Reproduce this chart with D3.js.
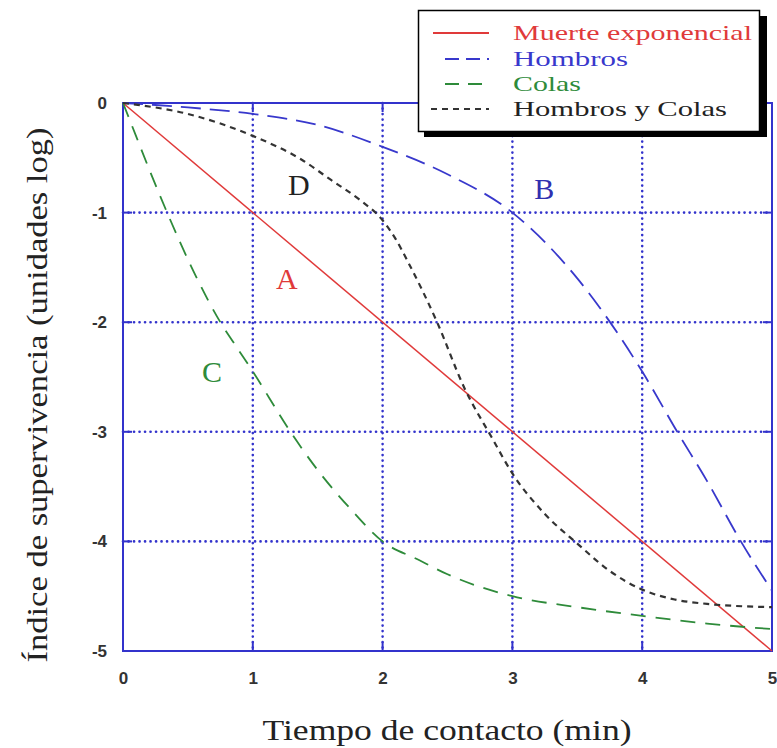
<!DOCTYPE html>
<html><head><meta charset="utf-8">
<script src="https://cdn.jsdelivr.net/npm/d3@7"></script>
<style>body{margin:0;background:#fff}</style>
</head><body>
<svg id="c" width="777" height="748"></svg>
<script>
const xTicks = [0,1,2,3,4,5];
const yTicks = [0,-1,-2,-3,-4,-5];
const seriesNames = ["Muerte exponencial","Hombros","Colas","Hombros y Colas"];
const seriesColors = ["#e03a3a","#3838cc","#2e8b3a","#333333"];
const expX = [0,5];
const expY = [0,-5];
const shoulderX = [0,0.5,1,1.5,2,2.5,3,3.5,4,4.27,4.5,4.76,5];
const shoulderY = [0,-0.04,-0.1,-0.2,-0.4,-0.65,-1.0,-1.6,-2.45,-3.0,-3.45,-4.0,-4.45];
const tailX = [0,0.1,0.2,0.34,0.57,0.75,0.86,1,1.29,1.5,1.75,2,2.28,2.5,3,3.5,4,4.5,5];
const tailY = [0,-0.3,-0.6,-1.0,-1.6,-2.0,-2.2,-2.45,-3.0,-3.35,-3.7,-4.0,-4.17,-4.3,-4.5,-4.6,-4.68,-4.75,-4.8];
const bothX = [0,0.5,1,1.38,1.6,1.82,2,2.1,2.2,2.42,2.63,2.84,3,3.25,3.5,3.75,4,4.25,4.5,5];
const bothY = [0,-0.1,-0.3,-0.52,-0.7,-0.88,-1.07,-1.24,-1.46,-2.0,-2.6,-3.05,-3.38,-3.75,-4.02,-4.27,-4.44,-4.53,-4.57,-4.6];
const letterText = ["D","B","A","C"];
const letterX = [1.354,3.246,1.262,0.685];
const letterY = [-0.84,-0.876,-1.70,-2.55];
const letterColors = ["#222222","#3030b0","#e03a3a","#2e8b3a"];

const svg = d3.select("#c");
const L=123,R=772,T=103,B=651;
const x = d3.scaleLinear().domain([0,5]).range([L,R]);
const y = d3.scaleLinear().domain([-5,0]).range([B,T]);
const blue="#3333cc";
const serif="Liberation Serif, Times New Roman, serif";

// gridlines
const g = svg.append("g");
g.selectAll(".gx").data(xTicks.slice(1,-1)).join("line")
 .attr("x1",d=>x(d)).attr("x2",d=>x(d)).attr("y1",T).attr("y2",B)
 .attr("stroke",blue).attr("stroke-width",2.6).attr("stroke-dasharray","0.1,5.4").attr("stroke-linecap","round");
g.selectAll(".gy").data(yTicks.slice(1,-1)).join("line")
 .attr("y1",d=>y(d)).attr("y2",d=>y(d)).attr("x1",L).attr("x2",R)
 .attr("stroke",blue).attr("stroke-width",2.6).attr("stroke-dasharray","0.1,5.4").attr("stroke-linecap","round");
// inner ticks
const tl=9;
xTicks.forEach(d=>{
  g.append("line").attr("x1",x(d)).attr("x2",x(d)).attr("y1",B).attr("y2",B-tl).attr("stroke",blue).attr("stroke-width",2);
  g.append("line").attr("x1",x(d)).attr("x2",x(d)).attr("y1",T).attr("y2",T+tl).attr("stroke",blue).attr("stroke-width",2);
});
yTicks.forEach(d=>{
  g.append("line").attr("y1",y(d)).attr("y2",y(d)).attr("x1",L).attr("x2",L+tl).attr("stroke",blue).attr("stroke-width",2);
  g.append("line").attr("y1",y(d)).attr("y2",y(d)).attr("x1",R).attr("x2",R-tl).attr("stroke",blue).attr("stroke-width",2);
});
// frame
svg.append("rect").attr("x",L).attr("y",T).attr("width",R-L).attr("height",B-T)
 .attr("fill","none").attr("stroke",blue).attr("stroke-width",2);

// axes labels via d3 axes (text only)
const xAxis = svg.append("g").attr("transform",`translate(0,${B})`)
 .call(d3.axisBottom(x).tickValues(xTicks).tickFormat(d3.format("d")).tickSize(0).tickPadding(21));
const yAxis = svg.append("g").attr("transform",`translate(${L},0)`)
 .call(d3.axisLeft(y).tickValues(yTicks).tickFormat(d=>String(d).replace("−","-")).tickSize(0).tickPadding(16));
[xAxis,yAxis].forEach(a=>{
  a.select(".domain").remove();
  a.selectAll("text").attr("font-family","Liberation Sans, Arial, sans-serif").attr("font-size",17)
   .attr("font-weight","bold").attr("fill","#333");
});

// curves
const line = d3.line().x(d=>x(d[0])).y(d=>y(d[1])).curve(d3.curveMonotoneX);
const series = [
  {xs:expX, ys:expY, dash:null, w:1.5},
  {xs:shoulderX, ys:shoulderY, dash:"20,9", w:1.8},
  {xs:tailX, ys:tailY, dash:"15,10", w:1.8},
  {xs:bothX, ys:bothY, dash:"6,5", w:2.2}
];
series.forEach((s,i)=>{
  svg.append("path").datum(s.xs.map((v,j)=>[v,s.ys[j]]))
   .attr("d",line).attr("fill","none").attr("stroke",seriesColors[i])
   .attr("stroke-width",s.w).attr("stroke-dasharray",s.dash);
});

// letters
letterText.forEach((t,i)=>{
  svg.append("text").attr("x",x(letterX[i])).attr("y",y(letterY[i])).attr("text-anchor","middle")
   .attr("font-family",serif).attr("font-size",30).attr("fill",letterColors[i]).text(t);
});

// legend
const lg = svg.append("g");
lg.append("rect").attr("x",424).attr("y",16).attr("width",343).attr("height",121).attr("fill","#000");
lg.append("rect").attr("x",418.5).attr("y",10.5).attr("width",341).attr("height",121).attr("fill","#fff").attr("stroke","#000").attr("stroke-width",1.5);
const legY=[33,59,84,109];
const legDash=[null,"14,7","14,9","6,5"];
const legX1=[433,445,445,431];
const legW=[239,115,68,214];
seriesNames.forEach((n,i)=>{
  lg.append("line").attr("x1",legX1[i]).attr("x2",489).attr("y1",legY[i]).attr("y2",legY[i])
   .attr("stroke",seriesColors[i]).attr("stroke-width",i==3?2.2:1.8).attr("stroke-dasharray",legDash[i]);
  lg.append("text").attr("x",513).attr("y",legY[i]+7).attr("font-family",serif)
   .attr("font-size",22).attr("textLength",legW[i]).attr("lengthAdjust","spacingAndGlyphs")
   .attr("fill",i==3?"#222":seriesColors[i]).text(n);
});

// axis titles
svg.append("text").attr("x",447).attr("y",740).attr("text-anchor","middle")
 .attr("font-family",serif).attr("font-size",30).attr("textLength",369).attr("lengthAdjust","spacingAndGlyphs")
 .attr("fill","#222").text("Tiempo de contacto (min)");
svg.append("text").attr("transform","translate(47,395) rotate(-90)").attr("text-anchor","middle")
 .attr("font-family",serif).attr("font-size",30).attr("textLength",535).attr("lengthAdjust","spacingAndGlyphs")
 .attr("fill","#222").text("Índice de supervivencia (unidades log)");
</script>
</body></html>
